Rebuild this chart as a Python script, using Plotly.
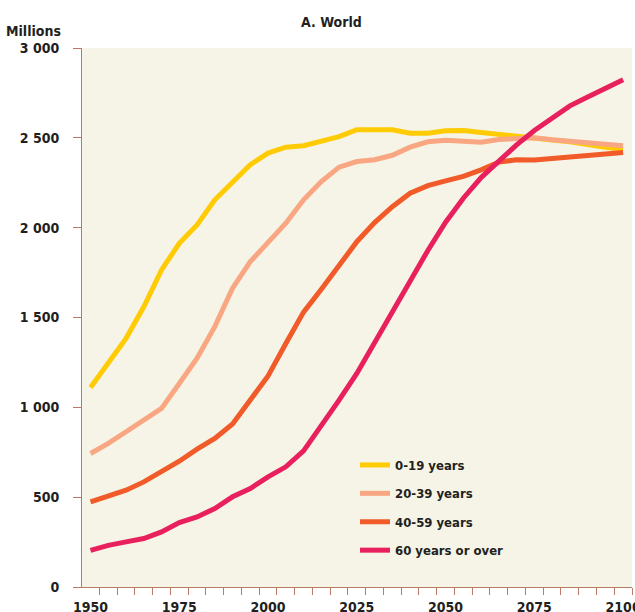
import plotly.graph_objects as go

years = list(range(1950, 2101, 5))

age_0_19 = [1110, 1245, 1384, 1560, 1765, 1913, 2015, 2155, 2257, 2350, 2415,
            2448, 2456, 2480, 2507, 2545, 2545, 2545, 2526, 2526, 2540,
            2541, 2530, 2518, 2508, 2500, 2488, 2478, 2460, 2447, 2435]
age_20_39 = [743, 799, 864, 925, 994, 1133, 1273, 1449, 1663, 1811, 1922,
             2025, 2155, 2257, 2337, 2368, 2378, 2403, 2448, 2478, 2487,
             2479, 2476, 2491, 2498, 2500, 2489, 2480, 2474, 2467, 2456]
age_40_59 = [474, 509, 539, 585, 641, 700, 767, 827, 907, 1036, 1175,
             1355, 1530, 1657, 1792, 1922, 2028, 2117, 2192, 2234, 2260,
             2285, 2322, 2365, 2378, 2376, 2385, 2393, 2402, 2411, 2418]
age_60_plus = [204, 232, 251, 270, 307, 359, 390, 437, 502, 548, 613,
               669, 758, 895, 1040, 1189, 1360, 1532, 1712, 1873, 2030,
               2164, 2279, 2374, 2461, 2541, 2610, 2678, 2727, 2777, 2823]

series_names = ["0-19 years", "20-39 years", "40-59 years", "60 years or over"]
series_colors = ["#FFCB05", "#F9A783", "#F15A29", "#E8205E"]

x_tick_vals = [1950, 1975, 2000, 2025, 2050, 2075, 2100]
x_tick_text = ["1950", "1975", "2000", "2025", "2050", "2075", "2100"]
y_tick_vals = [0, 500, 1000, 1500, 2000, 2500, 3000]
y_tick_text = ["0", "500", "1 000", "1 500", "2 000", "2 500", "3 000"]

FONT = "Liberation Sans Narrow, DejaVu Sans Condensed, Arial Narrow, sans-serif"
TXT = "#231F20"
AXC = "#B87A62"
BG = "#F6F4E6"

W, H = 635, 612
ML, MR, MT, MB = 82, 3, 48, 25
PW = W - ML - MR
PH = H - MT - MB

fig = go.Figure()
for i, (name, vals) in enumerate(zip(series_names, [age_0_19, age_20_39, age_40_59, age_60_plus])):
    fig.add_trace(go.Scatter(
        x=years, y=vals, mode="lines", name=name,
        line=dict(color=series_colors[i], width=5),
        legendgroup=f"g{i}",
    ))

fig.update_layout(
    width=W, height=H,
    margin=dict(l=ML, r=MR, t=MT, b=MB, autoexpand=False),
    paper_bgcolor="white",
    plot_bgcolor=BG,
    font=dict(family=FONT, size=14, color=TXT, weight="bold"),
    showlegend=True,
    legend=dict(x=(355 - ML) / PW, y=(H - MB - 450) / PH, xanchor="left", yanchor="top",
                bgcolor="rgba(0,0,0,0)", tracegroupgap=8.5,
                font=dict(family=FONT, size=13, color=TXT, weight="bold")),
    xaxis=dict(range=[1947.6, 2102.5], showgrid=False, zeroline=False, automargin=False,
               showline=True, linecolor=AXC, linewidth=1,
               tickvals=x_tick_vals, ticktext=x_tick_text,
               ticks="outside", ticklen=7, tickcolor="rgba(0,0,0,0)",
               ticklabelstandoff=0, ticklabeloverflow="allow",
               minor=dict(tick0=1947.5, dtick=5, ticks="outside", ticklen=7,
                          tickcolor=AXC, tickwidth=1, showgrid=False),
               tickfont=dict(family=FONT, size=14, color=TXT, weight="bold")),
    yaxis=dict(range=[0, 3000], showgrid=False, zeroline=False, automargin=False,
               showline=True, linecolor=AXC, linewidth=1,
               tickvals=y_tick_vals, ticktext=y_tick_text,
               ticks="outside", ticklen=8, tickcolor=AXC, tickwidth=1,
               ticklabelstandoff=11, ticklabeloverflow="allow",
               tickfont=dict(family=FONT, size=14, color=TXT, weight="bold")),
)

fig.add_annotation(text="A. World", xref="paper", yref="paper",
                   x=(331 - ML) / PW, y=(H - MB - 22) / PH, xanchor="center", yanchor="middle",
                   showarrow=False,
                   font=dict(family=FONT, size=14, color=TXT, weight="bold"))
fig.add_annotation(text="Millions", xref="paper", yref="paper",
                   x=(63 - ML) / PW, y=(H - MB - 31) / PH, xanchor="right", yanchor="middle",
                   showarrow=False,
                   font=dict(family=FONT, size=14, color=TXT, weight="bold"))

fig.write_html("out.html",
               config={"displayModeBar": False},
               post_script="document.body.style.margin='0';document.body.style.overflow='hidden';")
